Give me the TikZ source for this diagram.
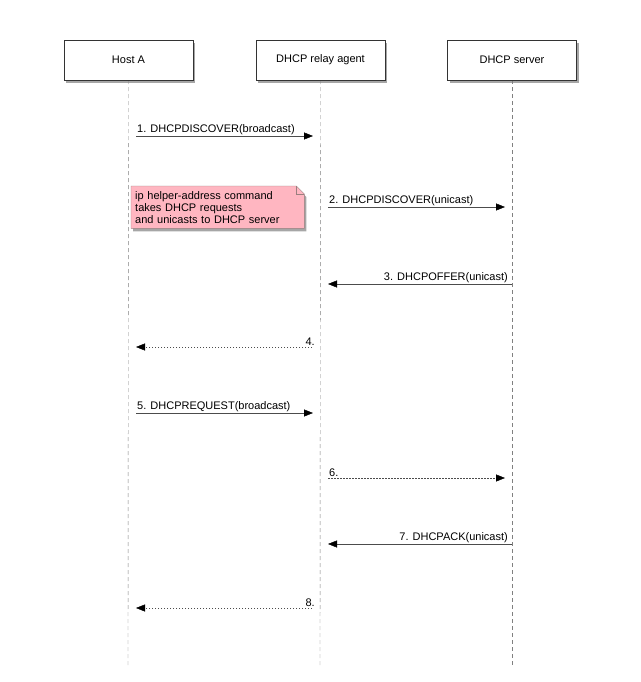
\documentclass[tikz,border=0pt]{standalone}
\usepackage{fontspec}
\setmainfont{Liberation Sans}
\usepackage{xcolor}
\usetikzlibrary{arrows.meta,shadows,backgrounds,positioning}

\definecolor{notepink}{HTML}{FFB6C1}
\definecolor{noteline}{HTML}{9A7F7F}

\begin{document}
\begin{tikzpicture}[x=1pt,y=-1pt,
            actor/.style={draw=black!80, fill=white, minimum width=129pt, minimum height=40pt,
                drop shadow={shadow xshift=2pt, shadow yshift=-3pt, opacity=0.7},
                font=\fontsize{11}{13}\selectfont},
            life/.style={draw=gray, dash pattern=on 4pt off 3pt},
            msg/.style={draw=black!70, -{Triangle[length=9pt,width=7pt,color=black,fill=black]}},
            reply/.style={msg, dash pattern=on 1.5pt off 1.5pt},
            lbl/.style={font=\fontsize{11}{13}\selectfont, inner sep=1pt, text=black},
            note/.style={align=left, anchor=north west, text width=165pt, inner sep=4pt,
                minimum height=42pt, font=\fontsize{11}{12}\selectfont}]
        \useasboundingbox (0,0) rectangle (640,682);

        \node[actor] (hosta) at (128.5,60) {Host A};
        \node[actor] (relay) at (320.5,60) {DHCP relay agent};
        \node[actor] (server) at (512,60) {DHCP server};

        \coordinate (hostaEnd) at (128,665);
        \coordinate (relayEnd) at (320,665);
        \coordinate (serverEnd) at (512,665);

        \begin{scope}[on background layer]
            \draw[life] (hosta.south) -- (hostaEnd);
            \draw[life] (relay.south) -- (relayEnd);
            \draw[life] (server.south) -- (serverEnd);
        \end{scope}

        % the note beside message 2
        \node[note] (hint) at (131,186) {ip helper-address command\\takes DHCP requests\\and unicasts to DHCP server};
        \begin{scope}[on background layer]
            \filldraw[draw=noteline, fill=notepink, drop shadow={shadow xshift=2pt, shadow yshift=-3pt, opacity=0.7}]
                (hint.north west) -- ([xshift=-8pt]hint.north east) -- ([yshift=-8pt]hint.north east)
                -- (hint.south east) -- (hint.south west) -- cycle;
            \draw[noteline] ([xshift=-8pt]hint.north east) |- ([yshift=-8pt]hint.north east);
        \end{scope}

        \coordinate (m1a) at (136,136);  \coordinate (m1b) at (313,136);
        \coordinate (m2a) at (328,207);  \coordinate (m2b) at (505,207);
        \coordinate (m3a) at (512,284);  \coordinate (m3b) at (328,284);
        \coordinate (m4a) at (312,347);  \coordinate (m4b) at (136,347);
        \coordinate (m5a) at (136,413);  \coordinate (m5b) at (313,413);
        \coordinate (m6a) at (328,478);  \coordinate (m6b) at (505,478);
        \coordinate (m7a) at (512,544);  \coordinate (m7b) at (328,544);
        \coordinate (m8a) at (312,608);  \coordinate (m8b) at (136,608);

        \draw[msg] (m1a) -- node[lbl, pos=0, above right] {1. DHCPDISCOVER(broadcast)} (m1b);
        \draw[msg] (m2a) -- node[lbl, pos=0, above right] {2. DHCPDISCOVER(unicast)} (m2b);
        \draw[msg] (m3a) -- node[lbl, pos=0, above left, xshift=-3pt] {3. DHCPOFFER(unicast)} (m3b);
        \draw[reply] (m4a) -- node[lbl, pos=0, above left, xshift=4pt] {4.} (m4b);
        \draw[msg] (m5a) -- node[lbl, pos=0, above right] {5. DHCPREQUEST(broadcast)} (m5b);
        \draw[reply] (m6a) -- node[lbl, pos=0, above right] {6.} (m6b);
        \draw[msg] (m7a) -- node[lbl, pos=0, above left, xshift=-3pt] {7. DHCPACK(unicast)} (m7b);
        \draw[reply] (m8a) -- node[lbl, pos=0, above left, xshift=4pt] {8.} (m8b);
    \end{tikzpicture}
\end{document}
